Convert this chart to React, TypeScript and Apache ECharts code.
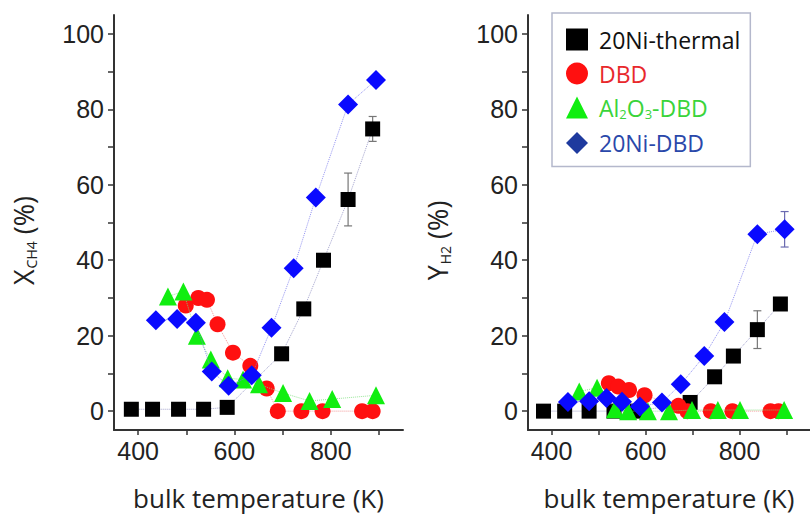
import React, { useEffect, useRef } from "react";
import * as echarts from "echarts";

// ---- Data ----
const seriesNames = ["20Ni-thermal", "DBD", "Al2O3-DBD", "20Ni-DBD"];

// Left panel: X_CH4 (%)
const thermalLX = [386, 430, 484, 536, 585, 698, 744, 785, 836, 887];
const thermalLY = [0.5, 0.5, 0.5, 0.5, 1, 15.2, 27.1, 40, 56.1, 74.8];
const dbdLX = [499, 525, 543, 565, 597, 633, 667, 690, 739, 783, 865, 887];
const dbdLY = [28, 30, 29.5, 23, 15.5, 12, 6, 0, 0, 0, 0, 0];
const alLX = [462, 494, 522, 551, 586, 618, 651, 701, 756, 803, 894];
const alLY = [30.4, 31.7, 20, 13.7, 8.7, 8.4, 7.1, 4.8, 2.7, 3.2, 4.2];
const niDbdLX = [437, 481, 520, 553, 588, 636, 677, 723, 769, 836, 894];
const niDbdLY = [24.1, 24.4, 23.4, 10.5, 6.7, 9.5, 22.1, 37.9, 56.6, 81.3, 87.8];
const thermalLErr = [[836, 56.1, 7], [887, 74.8, 3.3]];
const dbdLErr = [[565, 23, 1.5]];

// Right panel: Y_H2 (%)
const thermalRX = [383, 428, 480, 533, 582, 695, 747, 787, 838, 887];
const thermalRY = [0, 0, 0, 0, 0, 2.3, 9.1, 14.6, 21.6, 28.4];
const dbdRX = [522, 542, 565, 598, 670, 689, 739, 785, 866, 883];
const dbdRY = [7.4, 6.5, 5.6, 4.2, 1.4, 0, 0, 0, 0, 0];
const alRX = [459, 497, 535, 563, 605, 650, 699, 754, 801, 895];
const alRY = [5.2, 6.2, 0.5, 0, 0, 0, 0.3, 0.3, 0.3, 0.3];
const niDbdRX = [435, 480, 517, 550, 588, 635, 675, 725, 768, 838, 896];
const niDbdRY = [2.4, 2.6, 3.5, 2.5, 1.2, 2.3, 7.1, 14.6, 23.6, 46.9, 48.2];
const thermalRErr = [[838, 21.6, 5]];
const niDbdRErr = [[896, 48.2, 4.7]];

const xTickValues = [400, 500, 600, 700, 800, 900];
const xLabelValues = [400, 600, 800];
const yTickValues = [0, 10, 20, 30, 40, 50, 60, 70, 80, 90, 100];
const yLabelValues = [0, 20, 40, 60, 80, 100];

const colors = ["#000000", "#ff1010", "#10ee10", "#0a0aff"];
const lineColors = ["#8c8cc0", "#f08080", "#80e080", "#7a7aee"];
const symbols = ["rect", "circle", "triangle", "diamond"];
const symbolSizes = [15, 16, 18, 20];

const zip = (xs: number[], ys: number[]) => xs.map((x, i) => [x, ys[i]]);

export default function App() {
  const ref = useRef<HTMLDivElement>(null);
  useEffect(() => {
    if (!ref.current) return;
    const chart = echarts.init(ref.current, null, { renderer: "svg" });

    const axisColor = "#333";
    const makeX = (gridIndex: number) => ({
      type: "value",
      gridIndex,
      min: 350,
      max: 950,
      splitLine: { show: false },
      axisLine: { show: true, onZero: false, lineStyle: { color: axisColor, width: 2 } },
      axisTick: { show: true, customValues: xTickValues, length: 5, lineStyle: { color: axisColor, width: 1.5 } },
      axisLabel: { customValues: xLabelValues, fontSize: 25, color: "#222", fontFamily: "Liberation Sans", margin: 8 },
      name: "bulk temperature (K)",
      nameLocation: "middle",
      nameGap: 55,
      nameTextStyle: { fontSize: 26, fontFamily: "Open Sans", color: "#222" },
    });
    const makeY = (gridIndex: number, name: string) => ({
      type: "value",
      gridIndex,
      min: -5,
      max: 105,
      splitLine: { show: false },
      axisLine: { show: true, onZero: false, lineStyle: { color: axisColor, width: 2 } },
      axisTick: { show: true, customValues: yTickValues, length: 6, lineStyle: { color: axisColor, width: 1.5 } },
      axisLabel: { customValues: yLabelValues, fontSize: 25, color: "#222", fontFamily: "Liberation Sans", margin: 10 },
      name,
      nameLocation: "middle",
      nameRotate: 90,
      nameGap: 76,
      nameTextStyle: {
        color: "#222",
        fontFamily: "Open Sans",
        padding: [0, 36, 0, 0],
        rich: {
          m: { fontSize: 27, fontFamily: "Open Sans", color: "#222" },
          s: { fontSize: 14, fontFamily: "Open Sans", color: "#222", padding: [16, 0, 0, 1] },
        },
      },
    });

    const panels = [
      { data: [zip(thermalLX, thermalLY), zip(dbdLX, dbdLY), zip(alLX, alLY), zip(niDbdLX, niDbdLY)] },
      { data: [zip(thermalRX, thermalRY), zip(dbdRX, dbdRY), zip(alRX, alRY), zip(niDbdRX, niDbdRY)] },
    ];

    const series: any[] = [];
    const errSeries = (gridIndex: number, data: number[][], color: string) => ({
      type: "custom",
      name: "err" + gridIndex + color,
      xAxisIndex: gridIndex,
      yAxisIndex: gridIndex,
      data,
      z: 1,
      encode: { x: 0, y: 1 },
      renderItem: (_p: any, api: any) => {
        const x = api.value(0);
        const y = api.value(1);
        const e = api.value(2);
        const t = api.coord([x, y + e]);
        const b = api.coord([x, y - e]);
        const c = 4;
        const st = { stroke: color, lineWidth: 1.2 };
        return {
          type: "group",
          children: [
            { type: "line", shape: { x1: t[0], y1: t[1], x2: b[0], y2: b[1] }, style: st },
            { type: "line", shape: { x1: t[0] - c, y1: t[1], x2: t[0] + c, y2: t[1] }, style: st },
            { type: "line", shape: { x1: b[0] - c, y1: b[1], x2: b[0] + c, y2: b[1] }, style: st },
          ],
        };
      },
    });
    series.push(errSeries(0, thermalLErr, "#777"));
    series.push(errSeries(0, dbdLErr, "#e07070"));
    series.push(errSeries(1, thermalRErr, "#777"));
    series.push(errSeries(1, niDbdRErr, "#6a6ab0"));

    panels.forEach((p, gi) => {
      p.data.forEach((d, si) => {
        series.push({
          type: "line",
          name: seriesNames[si],
          xAxisIndex: gi,
          yAxisIndex: gi,
          data: d,
          symbol: symbols[si],
          symbolSize: symbolSizes[si],
          showSymbol: true,
          z: 2 + si,
          itemStyle: { color: colors[si] },
          lineStyle: { color: lineColors[si], width: 1, type: "dotted", opacity: 0.8 },
        });
      });
    });

    chart.setOption({
      animation: false,
      backgroundColor: "#fff",
      grid: [
        { left: 114, top: 15, width: 289, height: 417 },
        { left: 528, top: 15, width: 287, height: 417 },
      ],
      xAxis: [makeX(0), makeX(1)],
      yAxis: [makeY(0, "{m|X}{s|CH4}{m| (%)}"), makeY(1, "{m|Y}{s|H2}{m| (%)}")],
      legend: {
        left: 552,
        top: 13,
        orient: "vertical",
        backgroundColor: "#fff",
        borderColor: "#b4b8cc",
        borderWidth: 1.5,
        padding: [15, 10, 12, 14],
        itemGap: 11,
        itemWidth: 22,
        itemHeight: 22,
        z: 10,
        formatter: (name: string) =>
          name === "Al2O3-DBD" ? "{g|Al}{gs|2}{g|O}{gs|3}{g|-DBD}" : name,
        textStyle: {
          fontSize: 23,
          fontFamily: "Open Sans",
          padding: [0, 0, 0, 6],
          rich: {
            g: { fontSize: 23, fontFamily: "Open Sans", color: "#3ad43a" },
            gs: { fontSize: 13, fontFamily: "Open Sans", color: "#3ad43a", padding: [13, 0, 0, 0] },
          },
        },
        data: [
          { name: "20Ni-thermal", icon: "rect", itemStyle: { color: "#000" }, textStyle: { color: "#111" } },
          { name: "DBD", icon: "circle", itemStyle: { color: "#ff1010" }, textStyle: { color: "#e8282c" } },
          { name: "Al2O3-DBD", icon: "triangle", itemStyle: { color: "#10ee10" }, textStyle: { color: "#3ad43a" } },
          { name: "20Ni-DBD", icon: "diamond", itemStyle: { color: "#1e3a9e" }, textStyle: { color: "#2a48aa" } },
        ],
      },
      series,
    });
    return () => chart.dispose();
  }, []);
  return (
    <div
      ref={ref}
      style={{ position: "absolute", left: 0, top: 0, width: 810, height: 516, background: "#fff" }}
    />
  );
}
